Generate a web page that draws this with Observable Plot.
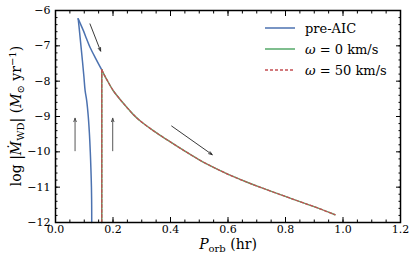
<!DOCTYPE html>
<html><head><meta charset="utf-8">
<script src="https://cdn.jsdelivr.net/npm/d3@7"></script>
<script src="https://cdn.jsdelivr.net/npm/@observablehq/plot@0.6"></script>
<style>body{margin:0;background:#fff}svg{font-family:"DejaVu Serif",serif}</style>
</head><body><div id="chart"></div>
<script>
// pre-AIC track (rising branch then falling branch, the peak shared)
const preAicP = [0.126, 0.1258, 0.125, 0.123, 0.121, 0.118, 0.114, 0.1085, 0.103, 0.099, 0.094, 0.088, 0.083, 0.079, 0.088, 0.097, 0.108, 0.120, 0.140, 0.161];
const preAicLog = [-12.0, -11.5, -11.0, -10.44, -10.0, -9.49, -9.0, -8.55, -8.27, -7.89, -7.45, -6.96, -6.55, -6.235, -6.40, -6.57, -6.80, -7.04, -7.36, -7.68];
const preAicBranch = ["up", "up", "up", "up", "up", "up", "up", "up", "up", "up", "up", "up", "up", "up", "down", "down", "down", "down", "down", "down"];
// post-AIC tracks
const w0P = [0.161, 0.161, 0.170, 0.180, 0.201, 0.225, 0.248, 0.270, 0.294, 0.340, 0.390, 0.450, 0.503, 0.555, 0.607, 0.660, 0.711, 0.792, 0.850, 0.909, 0.972];
const w0Log = [-12.0, -7.68, -7.83, -7.98, -8.27, -8.52, -8.74, -8.94, -9.12, -9.40, -9.67, -9.98, -10.24, -10.46, -10.66, -10.84, -11.00, -11.24, -11.41, -11.58, -11.78];
const w50P = w0P.slice();
const w50Log = w0Log.slice();
// arrows
const arrowX1 = [0.120, 0.068, 0.199, 0.404];
const arrowY1 = [-6.38, -9.97, -9.97, -9.27];
const arrowX2 = [0.157, 0.068, 0.199, 0.545];
const arrowY2 = [-7.15, -9.05, -9.05, -10.08];
// ticks
const xMajor = [0, 0.2, 0.4, 0.6, 0.8, 1.0, 1.2];
const xMinor = d3.range(0, 1.2001, 0.05);
const yMajor = [-12, -11, -10, -9, -8, -7, -6];
const yMinor = d3.range(-12, -5.999, 0.2);
const seriesNames = ["pre-AIC", "ω = 0 km/s", "ω = 50 km/s"];
const seriesColors = ["#4C72B0", "#55A868", "#C44E52"];

// split into branches so corners stay sharp
const pre = [];
preAicP.forEach((p, i) => {
  pre.push({p, m: preAicLog[i], z: preAicBranch[i]});
  if (i > 0 && preAicBranch[i] !== preAicBranch[i - 1]) pre.push({p: preAicP[i - 1], m: preAicLog[i - 1], z: preAicBranch[i]});
});
function track(P, L) {
  const out = [];
  P.forEach((p, i) => {
    if (i <= 1) out.push({p, m: L[i], z: "rise"});
    if (i >= 1) out.push({p, m: L[i], z: "fall"});
  });
  return out;
}
const s0 = track(w0P, w0Log);
const s50 = track(w50P, w50Log);
const arrows = arrowX1.map((x, i) => ({x1: x, y1: arrowY1[i], x2: arrowX2[i], y2: arrowY2[i], c: i === 0 || i === 3 ? "#222" : "#444"}));

const none = () => "";
const chart = Plot.plot({
  width: 416, height: 260,
  marginLeft: 55, marginRight: 16, marginTop: 10, marginBottom: 38,
  style: {fontFamily: "DejaVu Serif", fontSize: "11px", color: "#000", background: "#fff", overflow: "visible"},
  x: {domain: [0, 1.2]},
  y: {domain: [-12, -6]},
  marks: [
    Plot.axisX({ticks: xMajor, tickSize: -5, tickPadding: 8, tickFormat: d => d.toFixed(1), label: null, fontSize: 11}),
    Plot.axisX({ticks: xMinor, tickSize: -2.5, tickFormat: none, label: null}),
    Plot.axisX({anchor: "top", ticks: xMajor, tickSize: -5, tickFormat: none, label: null}),
    Plot.axisX({anchor: "top", ticks: xMinor, tickSize: -2.5, tickFormat: none, label: null}),
    Plot.axisY({ticks: yMajor, tickSize: -5, tickPadding: 10, tickFormat: d3.format("d"), label: null, fontSize: 11}),
    Plot.axisY({ticks: yMinor, tickSize: -2.5, tickFormat: none, label: null}),
    Plot.axisY({anchor: "right", ticks: yMajor, tickSize: -5, tickFormat: none, label: null}),
    Plot.axisY({anchor: "right", ticks: yMinor, tickSize: -2.5, tickFormat: none, label: null}),
    Plot.line(pre, {x: "p", y: "m", z: "z", stroke: seriesColors[0], strokeWidth: 1.5, curve: "catmull-rom"}),
    Plot.line(s0, {x: "p", y: "m", z: "z", stroke: seriesColors[1], strokeWidth: 1.5, curve: "catmull-rom"}),
    Plot.line(s50, {x: "p", y: "m", z: "z", stroke: seriesColors[2], strokeWidth: 1.3, strokeDasharray: "3,2", curve: "catmull-rom"}),
    Plot.arrow(arrows, {x1: "x1", y1: "y1", x2: "x2", y2: "y2", stroke: "c", strokeWidth: 0.9, headLength: 6, headAngle: 40}),
    Plot.frame({stroke: "#000", strokeWidth: 1.5})
  ]
});
document.getElementById("chart").appendChild(chart);

const svg = d3.select(chart);
// legend
const lg = svg.append("g").attr("font-size", 13).attr("text-anchor", "start");
[28, 49, 70].forEach((yy, i) => {
  lg.append("line").attr("x1", 265).attr("x2", 295).attr("y1", yy).attr("y2", yy)
    .attr("stroke", seriesColors[i]).attr("stroke-width", i === 2 ? 1.3 : 1.5)
    .attr("stroke-dasharray", i === 2 ? "3,2" : null);
  const t = lg.append("text").attr("x", 305).attr("y", yy + 4.5);
  if (i === 0) t.text(seriesNames[0]);
  else {
    t.append("tspan").attr("font-style", "italic").text("ω");
    t.append("tspan").text(seriesNames[i].slice(1));
  }
});
// x label
const xl = svg.append("text").attr("x", 228).attr("y", 249).attr("text-anchor", "middle").attr("font-size", 14);
xl.append("tspan").attr("font-style", "italic").text("P");
xl.append("tspan").attr("font-size", 10).attr("dy", 3).text("orb");
xl.append("tspan").attr("dy", -3).text(" (hr)");
// y label
const yl = svg.append("text").attr("transform", "translate(21,116) rotate(-90)").attr("text-anchor", "middle").attr("font-size", 14);
yl.append("tspan").text("log |");
yl.append("tspan").attr("font-style", "italic").text("M\u0307");
yl.append("tspan").attr("font-size", 10).attr("dy", 3).text("WD");
yl.append("tspan").attr("dy", -3).text("| (");
yl.append("tspan").attr("font-style", "italic").text("M");
yl.append("tspan").attr("font-size", 10).attr("dy", 3).text("⊙");
yl.append("tspan").attr("dy", -3).text(" yr");
yl.append("tspan").attr("font-size", 10).attr("dy", -5).text("−1");
yl.append("tspan").attr("dy", 5).text(")");
</script></body></html>
